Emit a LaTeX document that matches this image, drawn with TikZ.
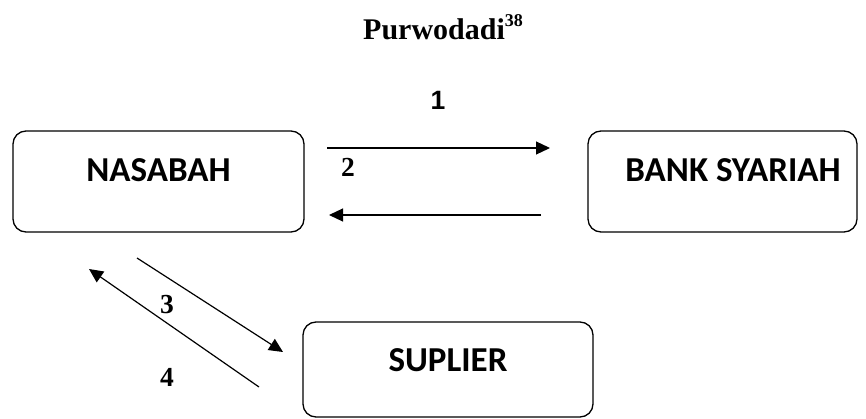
\documentclass[tikz,border=0pt]{standalone}
\usepackage{fontspec}
\setmainfont{Liberation Serif}
\newfontfamily\boxfont{Carlito}
\newfontfamily\arialfont{Liberation Sans}
\usetikzlibrary{arrows.meta}
\begin{document}
\begin{tikzpicture}[x=1pt,y=-1pt,
  box/.style={draw, line width=1.3pt, rounded corners=13pt, inner sep=0pt},
  boxlbl/.style={font=\boxfont\bfseries\fontsize{35}{40}\selectfont, inner sep=0pt},
  numlbl/.style={font=\bfseries\fontsize{27.5}{30}\selectfont, inner sep=0pt},
  arr/.style={line width=1.2pt, -{Triangle[length=14pt,width=13pt]}}]
\useasboundingbox (0,0) rectangle (866,419);
% title
\node[anchor=base west, inner sep=0pt, font=\bfseries\fontsize{30}{36}\selectfont] (title) at (363,40)
  {Purwodadi\raisebox{13pt}{\fontsize{18}{20}\selectfont 38}};
% boxes
\node[box, minimum width=291pt, minimum height=101pt] (nas) at (158.5,181.5) {};
\node[boxlbl] (nastxt) at (158.5,170) {NASABAH};
\node[box, minimum width=269pt, minimum height=101pt] (bank) at (722.5,181.5) {};
\node[boxlbl] (banktxt) at (733,170) {BANK SYARIAH};
\node[box, minimum width=290pt, minimum height=95pt] (sup) at (448,369.5) {};
\node[boxlbl] (suptxt) at (448,360) {SUPLIER};
% arrow end points
\coordinate (a1s) at (327,148);
\coordinate (a1e) at (550,148);
\coordinate (a2s) at (541,215);
\coordinate (a2e) at (329,215);
\coordinate (a3s) at (137,258);
\coordinate (a3e) at (283,352);
\coordinate (a4s) at (259,387);
\coordinate (a4e) at (89,269);
\draw[arr] (a1s) -- (a1e);
\draw[arr] (a2s) -- (a2e);
\draw[arr] (a3s) -- (a3e);
\draw[arr] (a4s) -- (a4e);
% labels
\node[inner sep=0pt, font=\arialfont\bfseries\fontsize{26.5}{30}\selectfont] (l1) at (438,100) {1};
\node[numlbl] (l2) at (348,167) {2};
\node[numlbl] (l3) at (167,305) {3};
\node[numlbl] (l4) at (167,377) {4};
\end{tikzpicture}
\end{document}
